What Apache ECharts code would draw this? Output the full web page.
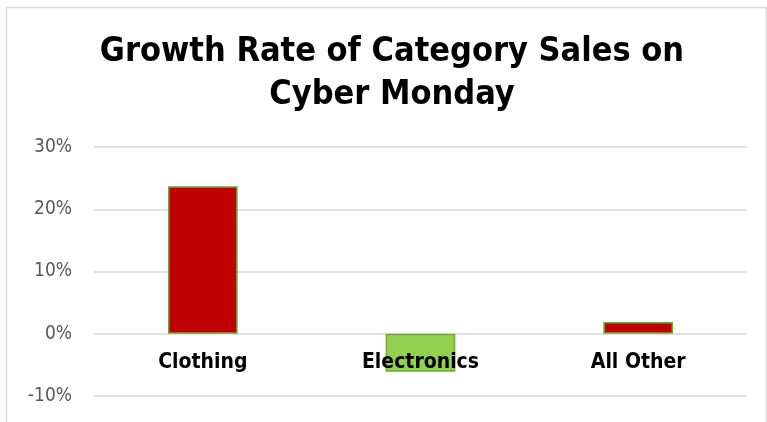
<!DOCTYPE html>
<html>
<head>
<meta charset="utf-8">
<script src="https://cdn.jsdelivr.net/npm/echarts@6/dist/echarts.min.js"></script>
<style>html,body{margin:0;padding:0;background:#fff;}#c{width:767px;height:422px;}</style>
</head>
<body>
<div id="c"></div>
<script>
var categories = ['Clothing', 'Electronics', 'All Other'];
var growthValues = [23.7, -6.1, 1.9];
var barColors = ['#C00000', '#92D050', '#C00000'];
var titleText = 'Growth Rate of Category Sales on\nCyber Monday';

var chart = echarts.init(document.getElementById('c'));
chart.setOption({
  animation: false,
  backgroundColor: '#fff',
  title: {
    text: titleText,
    left: 387,
    textAlign: 'center',
    top: 26,
    textStyle: {
      fontFamily: 'DejaVu Sans Condensed',
      fontWeight: 'bold',
      fontSize: 34,
      lineHeight: 43,
      color: '#000'
    }
  },
  graphic: [{
    type: 'rect',
    shape: { x: 6.5, y: 7.5, width: 760, height: 430 },
    style: { fill: 'none', stroke: '#d9d9d9', lineWidth: 1.5 },
    silent: true
  }],
  grid: { left: 94, right: 20, top: 147, bottom: 26, containLabel: false, outerBoundsMode: 'none' },
  xAxis: {
    type: 'category',
    data: categories,
    offset: -62,
    z: 10,
    axisLine: { show: false, onZero: false },
    axisTick: { show: false },
    axisLabel: {
      margin: 18,
      color: '#000',
      fontWeight: 'bold',
      fontSize: 21,
      fontFamily: 'DejaVu Sans Condensed'
    }
  },
  yAxis: {
    type: 'value',
    min: -10,
    max: 30,
    interval: 10,
    axisLine: { show: false },
    axisTick: { show: false },
    splitLine: { lineStyle: { color: '#d9d9d9', width: 1.5 } },
    axisLabel: {
      formatter: '{value}%',
      color: '#595959',
      fontSize: 19,
      margin: 22,
      fontFamily: 'DejaVu Sans Condensed'
    }
  },
  series: [{
    type: 'bar',
    z: 2,
    barWidth: '32%',
    data: growthValues.map(function (v, i) {
      return { value: v, itemStyle: { color: barColors[i] } };
    }),
    itemStyle: { borderColor: '#70A83B', borderWidth: 1.5 }
  }]
});
</script>
</body>
</html>
